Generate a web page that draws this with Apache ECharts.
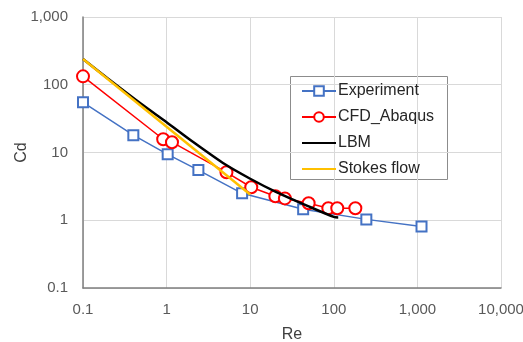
<!DOCTYPE html>
<html>
<head>
<meta charset="utf-8">
<script src="https://cdn.jsdelivr.net/npm/echarts@6/dist/echarts.min.js"></script>
<style>html,body{margin:0;padding:0;background:#fff}#c{width:523px;height:342px}</style>
</head>
<body>
<div id="c"></div>
<script>
// Data
const expRe = [0.1, 0.4, 1.03, 2.4, 8.0, 43, 245, 1120];
const expCd = [55, 18, 9.4, 5.5, 2.5, 1.45, 1.03, 0.81];
const cfdRe = [0.1, 0.91, 1.16, 5.2, 10.3, 20, 26, 50, 86, 110, 181];
const cfdCd = [133, 15.7, 14.2, 5.1, 3.07, 2.26, 2.1, 1.78, 1.5, 1.5, 1.5];
const lbmRe = [0.1, 0.2, 0.5, 1, 2, 5, 10, 20, 50, 100, 113];
const lbmCd = [240, 123, 52, 28, 14.8, 6.7, 4.1, 2.65, 1.6, 1.12, 1.1];
const stokesRe = [0.1, 10];
const stokesCd = [240, 2.4];
const seriesNames = ['Experiment', 'CFD_Abaqus', 'LBM', 'Stokes flow'];

const pairs = (xs, ys) => xs.map((x, i) => [x, ys[i]]);
const fmt = v => {
  const r = Math.round(v * 1000) / 1000;
  return r >= 1000 ? r.toLocaleString('en-US') : String(r);
};
const FONT = '"Liberation Sans", Arial, sans-serif';

const chart = echarts.init(document.getElementById('c'), null, {renderer: 'canvas'});
chart.setOption({
  animation: false,
  backgroundColor: '#fff',
  textStyle: {fontFamily: FONT},
  grid: {left: 83, right: 22, top: 17, bottom: 54, outerBoundsMode: 'none', containLabel: false},
  xAxis: {
    type: 'log', logBase: 10, min: 0.1, max: 10000,
    name: 'Re', nameLocation: 'middle', nameGap: 39,
    nameTextStyle: {fontSize: 16, color: '#404040', fontFamily: FONT},
    axisLine: {show: true, onZero: false, lineStyle: {color: '#7f7f7f', width: 1.5}},
    axisTick: {show: false},
    axisLabel: {formatter: fmt, fontSize: 15, color: '#595959', margin: 14, fontFamily: FONT},
    splitLine: {show: true, lineStyle: {color: '#d9d9d9', width: 1}},
    minorTick: {show: false}
  },
  yAxis: {
    type: 'log', logBase: 10, min: 0.1, max: 1000,
    name: 'Cd', nameLocation: 'middle', nameGap: 53, nameRotate: 90, nameMoveOverlap: false,
    nameTextStyle: {fontSize: 16, color: '#404040', fontFamily: FONT},
    axisLine: {show: true, onZero: false, lineStyle: {color: '#7f7f7f', width: 1.5}},
    axisTick: {show: false},
    axisLabel: {formatter: fmt, fontSize: 15, color: '#595959', margin: 15, fontFamily: FONT},
    splitLine: {show: true, lineStyle: {color: '#d9d9d9', width: 1}}
  },
  legend: {
    orient: 'vertical', left: 296, top: 78, padding: 5,
    itemWidth: 34, itemHeight: 12, itemGap: 10,
    data: [
      {name: seriesNames[0]},
      {name: seriesNames[1]},
      {name: seriesNames[2], itemStyle: {opacity: 0}},
      {name: seriesNames[3], itemStyle: {opacity: 0}}
    ],
    textStyle: {fontSize: 16, color: '#262626', fontFamily: FONT, padding: [0, 0, 0, -3]}
  },
  graphic: [{
    type: 'rect', left: 290, top: 76, z: 0,
    shape: {width: 157, height: 103},
    style: {fill: '#fff', stroke: '#8c8c8c', lineWidth: 1}
  }],
  series: [
    {
      name: seriesNames[0], type: 'line', data: pairs(expRe, expCd),
      symbol: 'emptyRect', symbolSize: 10,
      lineStyle: {color: '#4472c4', width: 1.5},
      itemStyle: {color: '#4472c4', borderWidth: 1.5}, z: 3
    },
    {
      name: seriesNames[1], type: 'line', data: pairs(cfdRe, cfdCd),
      symbol: 'emptyCircle', symbolSize: 12,
      lineStyle: {color: '#ff0000', width: 1.5},
      itemStyle: {color: '#ff0000', borderWidth: 1.5}, z: 4
    },
    {
      name: seriesNames[2], type: 'line', data: pairs(lbmRe, lbmCd),
      symbol: 'none', smooth: 0.3,
      lineStyle: {color: '#000000', width: 2.5},
      itemStyle: {color: '#000000'}, z: 5
    },
    {
      name: seriesNames[3], type: 'line', data: pairs(stokesRe, stokesCd),
      symbol: 'none',
      lineStyle: {color: '#ffc000', width: 2.5},
      itemStyle: {color: '#ffc000'}, z: 6
    }
  ]
});
</script>
</body>
</html>
